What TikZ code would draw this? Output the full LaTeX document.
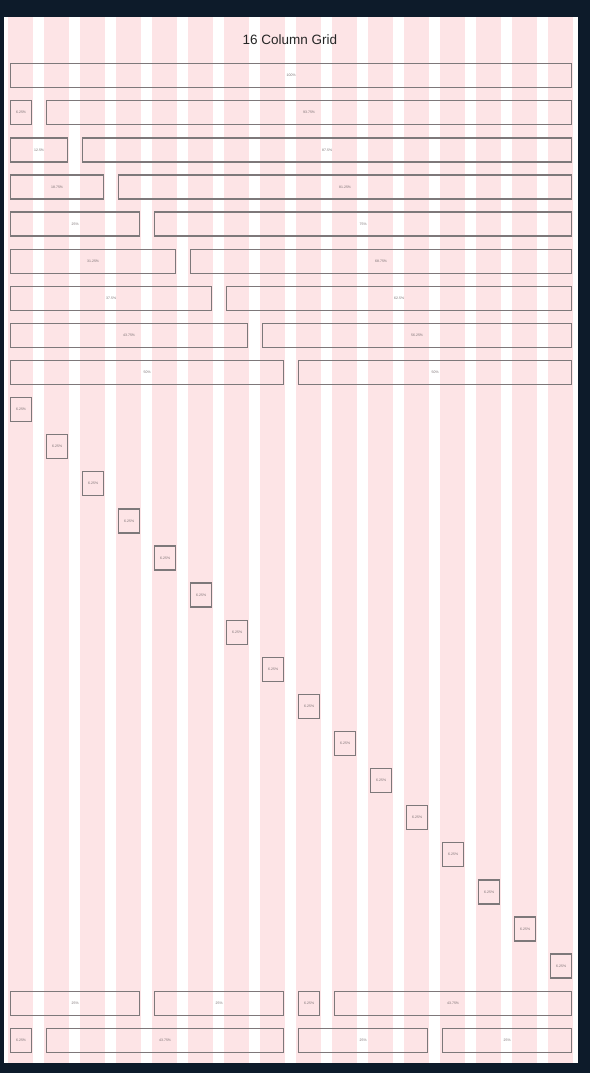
\documentclass[tikz,border=0pt]{standalone}
\usepackage{fontspec}
\setmainfont{Liberation Sans}
\definecolor{frame}{RGB}{13,27,42}
\definecolor{colpink}{RGB}{253,228,230}
\definecolor{boxline}{RGB}{125,120,122}
\definecolor{labelgray}{RGB}{120,110,112}
\tikzset{
  cell/.style={draw=boxline, line width=1.3pt, minimum height=24pt, inner sep=0pt,
    anchor=north west, font=\fontsize{3.5}{4}\selectfont, text=labelgray},
  titletext/.style={font=\fontsize{13.5}{14}\selectfont, text=black!85}
}
\newcommand\gcell[5]{%
  \pgfmathsetmacro\gx{10+36*(#2)}%
  \pgfmathsetmacro\gw{36*(#3)-15}%
  \pgfmathsetmacro\gy{63+37.1*(#4)}%
  \node[cell, minimum width=\gw pt] (#1) at (\gx,\gy) {#5};}
\begin{document}
\begin{tikzpicture}[x=1pt,y=-1pt]
\useasboundingbox (0,0) rectangle (590,1073);
\fill[frame] (0,0) rectangle (590,1073);
\fill[white] (4,17) rectangle (578,1063);
\foreach \i in {0,...,15} \fill[colpink] ({8+36*\i},17) rectangle ({33+36*\i},1063);
\node[titletext] (title) at (290,40) {16 Column Grid};
% full row
\gcell{full}{0}{16}{0}{100\%}
% split rows
\gcell{aL}{0}{1}{1}{6.25\%}   \gcell{aR}{1}{15}{1}{93.75\%}
\gcell{bL}{0}{2}{2}{12.5\%}   \gcell{bR}{2}{14}{2}{87.5\%}
\gcell{cL}{0}{3}{3}{18.75\%}  \gcell{cR}{3}{13}{3}{81.25\%}
\gcell{dL}{0}{4}{4}{25\%}     \gcell{dR}{4}{12}{4}{75\%}
\gcell{eL}{0}{5}{5}{31.25\%}  \gcell{eR}{5}{11}{5}{68.75\%}
\gcell{fL}{0}{6}{6}{37.5\%}   \gcell{fR}{6}{10}{6}{62.5\%}
\gcell{gL}{0}{7}{7}{43.75\%}  \gcell{gR}{7}{9}{7}{56.25\%}
\gcell{hL}{0}{8}{8}{50\%}     \gcell{hR}{8}{8}{8}{50\%}
% diagonal
\foreach \k in {0,...,15} {\gcell{diag\k}{\k}{1}{9+\k}{6.25\%}}
% bottom rows
\gcell{pA}{0}{4}{25}{25\%} \gcell{pB}{4}{4}{25}{25\%}
\gcell{pC}{8}{1}{25}{6.25\%} \gcell{pD}{9}{7}{25}{43.75\%}
\gcell{qA}{0}{1}{26}{6.25\%} \gcell{qB}{1}{7}{26}{43.75\%}
\gcell{qC}{8}{4}{26}{25\%} \gcell{qD}{12}{4}{26}{25\%}
\end{tikzpicture}
\end{document}
